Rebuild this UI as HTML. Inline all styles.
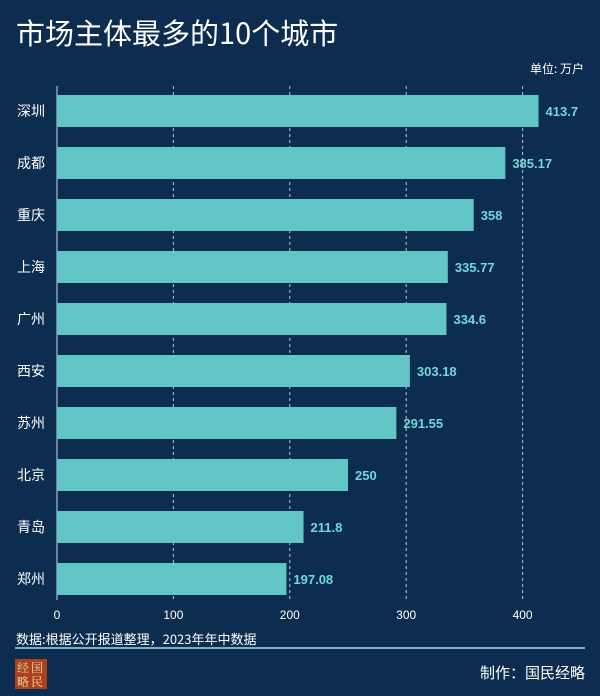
<!DOCTYPE html>
<html><head><meta charset="utf-8"><style>
body{margin:0;width:600px;height:696px;background:#0c2d4f;overflow:hidden;font-family:"Liberation Sans","Noto Sans CJK SC",sans-serif}
</style></head><body>
<svg width="600" height="696" style="position:absolute;left:0;top:0">
<rect x="0" y="0" width="600" height="696" fill="#0c2d4f"/>
<text x="16" y="44" fill="#ffffff" font-size="29" font-family="Noto Sans CJK SC, sans-serif">市场主体最多的10个城市</text>
<text x="584" y="73" fill="#ffffff" font-size="12" text-anchor="end" font-family="Noto Sans CJK SC, sans-serif">单位: 万户</text>
<g id="grid"></g><g id="bars"></g><g id="ticks"></g>
<text x="16" y="644" fill="#ffffff" font-size="13" font-family="Noto Sans CJK SC, sans-serif">数据:根据公开报道整理，2023年年中数据</text>
<line x1="15" y1="648" x2="585" y2="648" stroke="#a9d3ea" stroke-width="1.5"/>
<rect x="15" y="659" width="32" height="30" fill="#a8431c"/>
<text x="31" y="672" fill="#f5d9b8" font-size="12" text-anchor="middle" letter-spacing="2" font-family="Noto Serif CJK SC, serif">经国</text>
<text x="31" y="686" fill="#f5d9b8" font-size="12" text-anchor="middle" letter-spacing="2" font-family="Noto Serif CJK SC, serif">略民</text>
<text x="585" y="678" fill="#ffffff" font-size="15" text-anchor="end" font-family="Noto Sans CJK SC, sans-serif">制作：国民经略</text>
</svg>
<script>
const cities=["深圳","成都","重庆","上海","广州","西安","苏州","北京","青岛","郑州"];
const values=[413.7,385.17,358,335.77,334.6,303.18,291.55,250,211.8,197.08];
const labels=["413.7","385.17","358","335.77","334.6","303.18","291.55","250","211.8","197.08"];
const ticks=[0,100,200,300,400];
const NS="http://www.w3.org/2000/svg";
const x0=57,xs=1.164,y0=111,step=52,bh=32;
const xf=v=>x0+v*xs, yf=i=>y0+i*step;
function mk(t,a,p){const e=document.createElementNS(NS,t);for(const k in a)e.setAttribute(k,a[k]);p.appendChild(e);return e;}
const G=document.getElementById('grid'),B=document.getElementById('bars'),T=document.getElementById('ticks');
ticks.forEach(t=>{
 if(t>0){const l=mk('line',{x1:xf(t),x2:xf(t),y1:86,y2:600,stroke:'#b8c6d4','stroke-width':1,'stroke-dasharray':'3,3'},G);
 
 }
 const tx=mk('text',{x:xf(t),y:619,fill:'#fff','font-size':12,'text-anchor':'middle'},T);tx.textContent=t;
 
 
});
const ax=mk('line',{x1:x0,x2:x0,y1:86,y2:600,stroke:'#8aa0b4','stroke-width':1.5},G);


cities.forEach((c,i)=>{
 const r=mk('rect',{x:x0,y:yf(i)-bh/2,width:values[i]*xs,height:bh,fill:'#62c5c6'},B);
 
 
 const lb=mk('text',{x:45,y:yf(i)+5,fill:'#fff','font-size':14,'text-anchor':'end','font-family':'Noto Sans CJK SC, sans-serif'},B);lb.textContent=c;
 
 
 const v=mk('text',{x:xf(values[i])+7,y:yf(i)+5,fill:'#72d8d8','font-size':13,'font-weight':'bold'},B);v.textContent=labels[i];
 
 
});
</script>
</body></html>
